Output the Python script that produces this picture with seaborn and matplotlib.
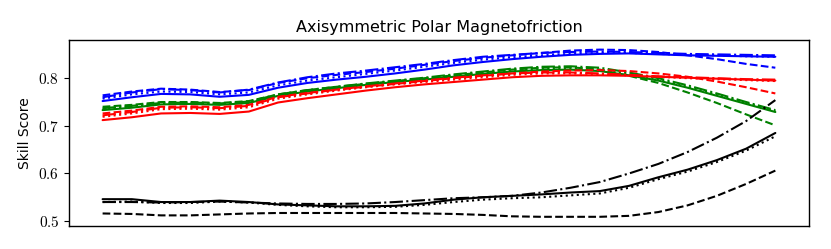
import numpy as np
import pandas as pd
import matplotlib
matplotlib.use("Agg")
import matplotlib.pyplot as plt
from matplotlib.ticker import FuncFormatter
import seaborn as sns

# evaluation steps (no labels shown on the x axis)
steps = list(range(24))

blue_solid = [0.752, 0.760, 0.767, 0.766, 0.761, 0.765, 0.780, 0.790, 0.797, 0.803, 0.810, 0.818,
              0.827, 0.834, 0.840, 0.845, 0.849, 0.851, 0.852, 0.850, 0.848, 0.847, 0.846, 0.845]
blue_dashed = [0.764, 0.772, 0.778, 0.776, 0.771, 0.775, 0.790, 0.800, 0.807, 0.813, 0.820, 0.828,
               0.836, 0.843, 0.848, 0.853, 0.858, 0.860, 0.859, 0.855, 0.848, 0.840, 0.830, 0.822]
blue_dashdot = [0.760, 0.770, 0.777, 0.775, 0.770, 0.776, 0.791, 0.802, 0.810, 0.816, 0.823, 0.830,
                0.838, 0.845, 0.849, 0.853, 0.855, 0.856, 0.855, 0.853, 0.851, 0.850, 0.849, 0.848]
blue_dotted = [0.757, 0.766, 0.772, 0.771, 0.766, 0.770, 0.785, 0.795, 0.802, 0.809, 0.816, 0.824,
               0.832, 0.839, 0.844, 0.848, 0.851, 0.853, 0.853, 0.851, 0.849, 0.848, 0.846, 0.845]

green_solid = [0.733, 0.738, 0.745, 0.746, 0.744, 0.748, 0.763, 0.772, 0.779, 0.786, 0.792, 0.797,
               0.803, 0.809, 0.814, 0.817, 0.818, 0.815, 0.806, 0.795, 0.780, 0.763, 0.746, 0.729]
green_dashed = [0.740, 0.744, 0.750, 0.750, 0.748, 0.752, 0.766, 0.775, 0.782, 0.788, 0.794, 0.800,
                0.806, 0.812, 0.818, 0.822, 0.823, 0.818, 0.805, 0.790, 0.770, 0.748, 0.724, 0.701]
green_dashdot = [0.737, 0.742, 0.748, 0.749, 0.747, 0.751, 0.766, 0.775, 0.782, 0.789, 0.795, 0.801,
                 0.808, 0.814, 0.820, 0.824, 0.825, 0.822, 0.812, 0.800, 0.785, 0.768, 0.750, 0.733]
green_dotted = [0.735, 0.740, 0.747, 0.748, 0.746, 0.750, 0.764, 0.773, 0.780, 0.787, 0.793, 0.799,
                0.805, 0.811, 0.816, 0.820, 0.821, 0.818, 0.809, 0.797, 0.782, 0.765, 0.748, 0.731]

red_solid = [0.712, 0.718, 0.726, 0.727, 0.725, 0.730, 0.749, 0.758, 0.766, 0.774, 0.781, 0.787,
             0.792, 0.797, 0.802, 0.805, 0.806, 0.806, 0.805, 0.803, 0.801, 0.799, 0.797, 0.795]
red_dashed = [0.726, 0.732, 0.740, 0.741, 0.739, 0.744, 0.761, 0.769, 0.776, 0.782, 0.788, 0.794,
              0.800, 0.805, 0.810, 0.814, 0.816, 0.817, 0.815, 0.810, 0.803, 0.793, 0.781, 0.768]
red_dashdot = [0.722, 0.729, 0.738, 0.739, 0.737, 0.742, 0.760, 0.768, 0.776, 0.783, 0.789, 0.795,
               0.801, 0.806, 0.810, 0.812, 0.812, 0.810, 0.807, 0.804, 0.802, 0.800, 0.798, 0.797]
red_dotted = [0.719, 0.726, 0.735, 0.736, 0.734, 0.739, 0.757, 0.766, 0.774, 0.781, 0.787, 0.792,
              0.797, 0.802, 0.807, 0.810, 0.810, 0.809, 0.806, 0.803, 0.800, 0.798, 0.796, 0.794]

black_solid = [0.546, 0.546, 0.540, 0.540, 0.543, 0.540, 0.535, 0.533, 0.531, 0.531, 0.532, 0.537,
               0.545, 0.550, 0.553, 0.556, 0.560, 0.563, 0.574, 0.592, 0.608, 0.628, 0.652, 0.685]
black_dashed = [0.516, 0.515, 0.512, 0.512, 0.514, 0.516, 0.517, 0.517, 0.517, 0.517, 0.517, 0.516,
                0.515, 0.513, 0.510, 0.509, 0.509, 0.509, 0.511, 0.519, 0.533, 0.553, 0.578, 0.606]
black_dashdot = [0.540, 0.540, 0.539, 0.540, 0.541, 0.539, 0.537, 0.536, 0.536, 0.537, 0.540, 0.544,
                 0.548, 0.550, 0.553, 0.560, 0.570, 0.582, 0.600, 0.620, 0.645, 0.675, 0.710, 0.754]
black_dotted = [0.540, 0.541, 0.538, 0.538, 0.541, 0.539, 0.534, 0.531, 0.529, 0.529, 0.530, 0.534,
                0.540, 0.545, 0.548, 0.550, 0.554, 0.558, 0.570, 0.588, 0.604, 0.624, 0.648, 0.678]

series = {
    "blue": [blue_solid, blue_dashed, blue_dashdot, blue_dotted],
    "green": [green_solid, green_dashed, green_dashdot, green_dotted],
    "red": [red_solid, red_dashed, red_dashdot, red_dotted],
    "black": [black_solid, black_dashed, black_dashdot, black_dotted],
}
styles = ["-", "--", "-.", ":"]

sns.set_style("ticks")
plt.rcParams["font.family"] = ["DejaVu Sans"]
plt.rcParams["mathtext.fontset"] = "cm"
plt.rcParams["text.color"] = "black"
plt.rcParams["axes.labelcolor"] = "black"
plt.rcParams["ytick.color"] = "black"

fig = plt.figure(figsize=(8.31, 2.49), dpi=100)
ax = fig.add_axes([0.083, 0.092, 0.8905, 0.747])

for color, lines in series.items():
    for vals, ls in zip(lines, styles):
        sns.lineplot(x=steps, y=vals, color=color, linestyle=ls, linewidth=1.5, ax=ax)

ax.set_ylim(0.4895, 0.88)
ax.set_yticks([0.5, 0.6, 0.7, 0.8])
ax.yaxis.set_major_formatter(FuncFormatter(lambda v, p: f"${v:.1f}$"))
ax.set_xticks([])
ax.tick_params(axis="y", labelsize=11, length=3.5, colors="black")
ax.set_ylabel("Skill Score", fontsize=10)
ax.set_title("Axisymmetric Polar Magnetofriction", fontsize=11.5)
for sp in ax.spines.values():
    sp.set_visible(True)
    sp.set_color("black")
    sp.set_linewidth(1.0)

fig.savefig("out.png", dpi=100)
